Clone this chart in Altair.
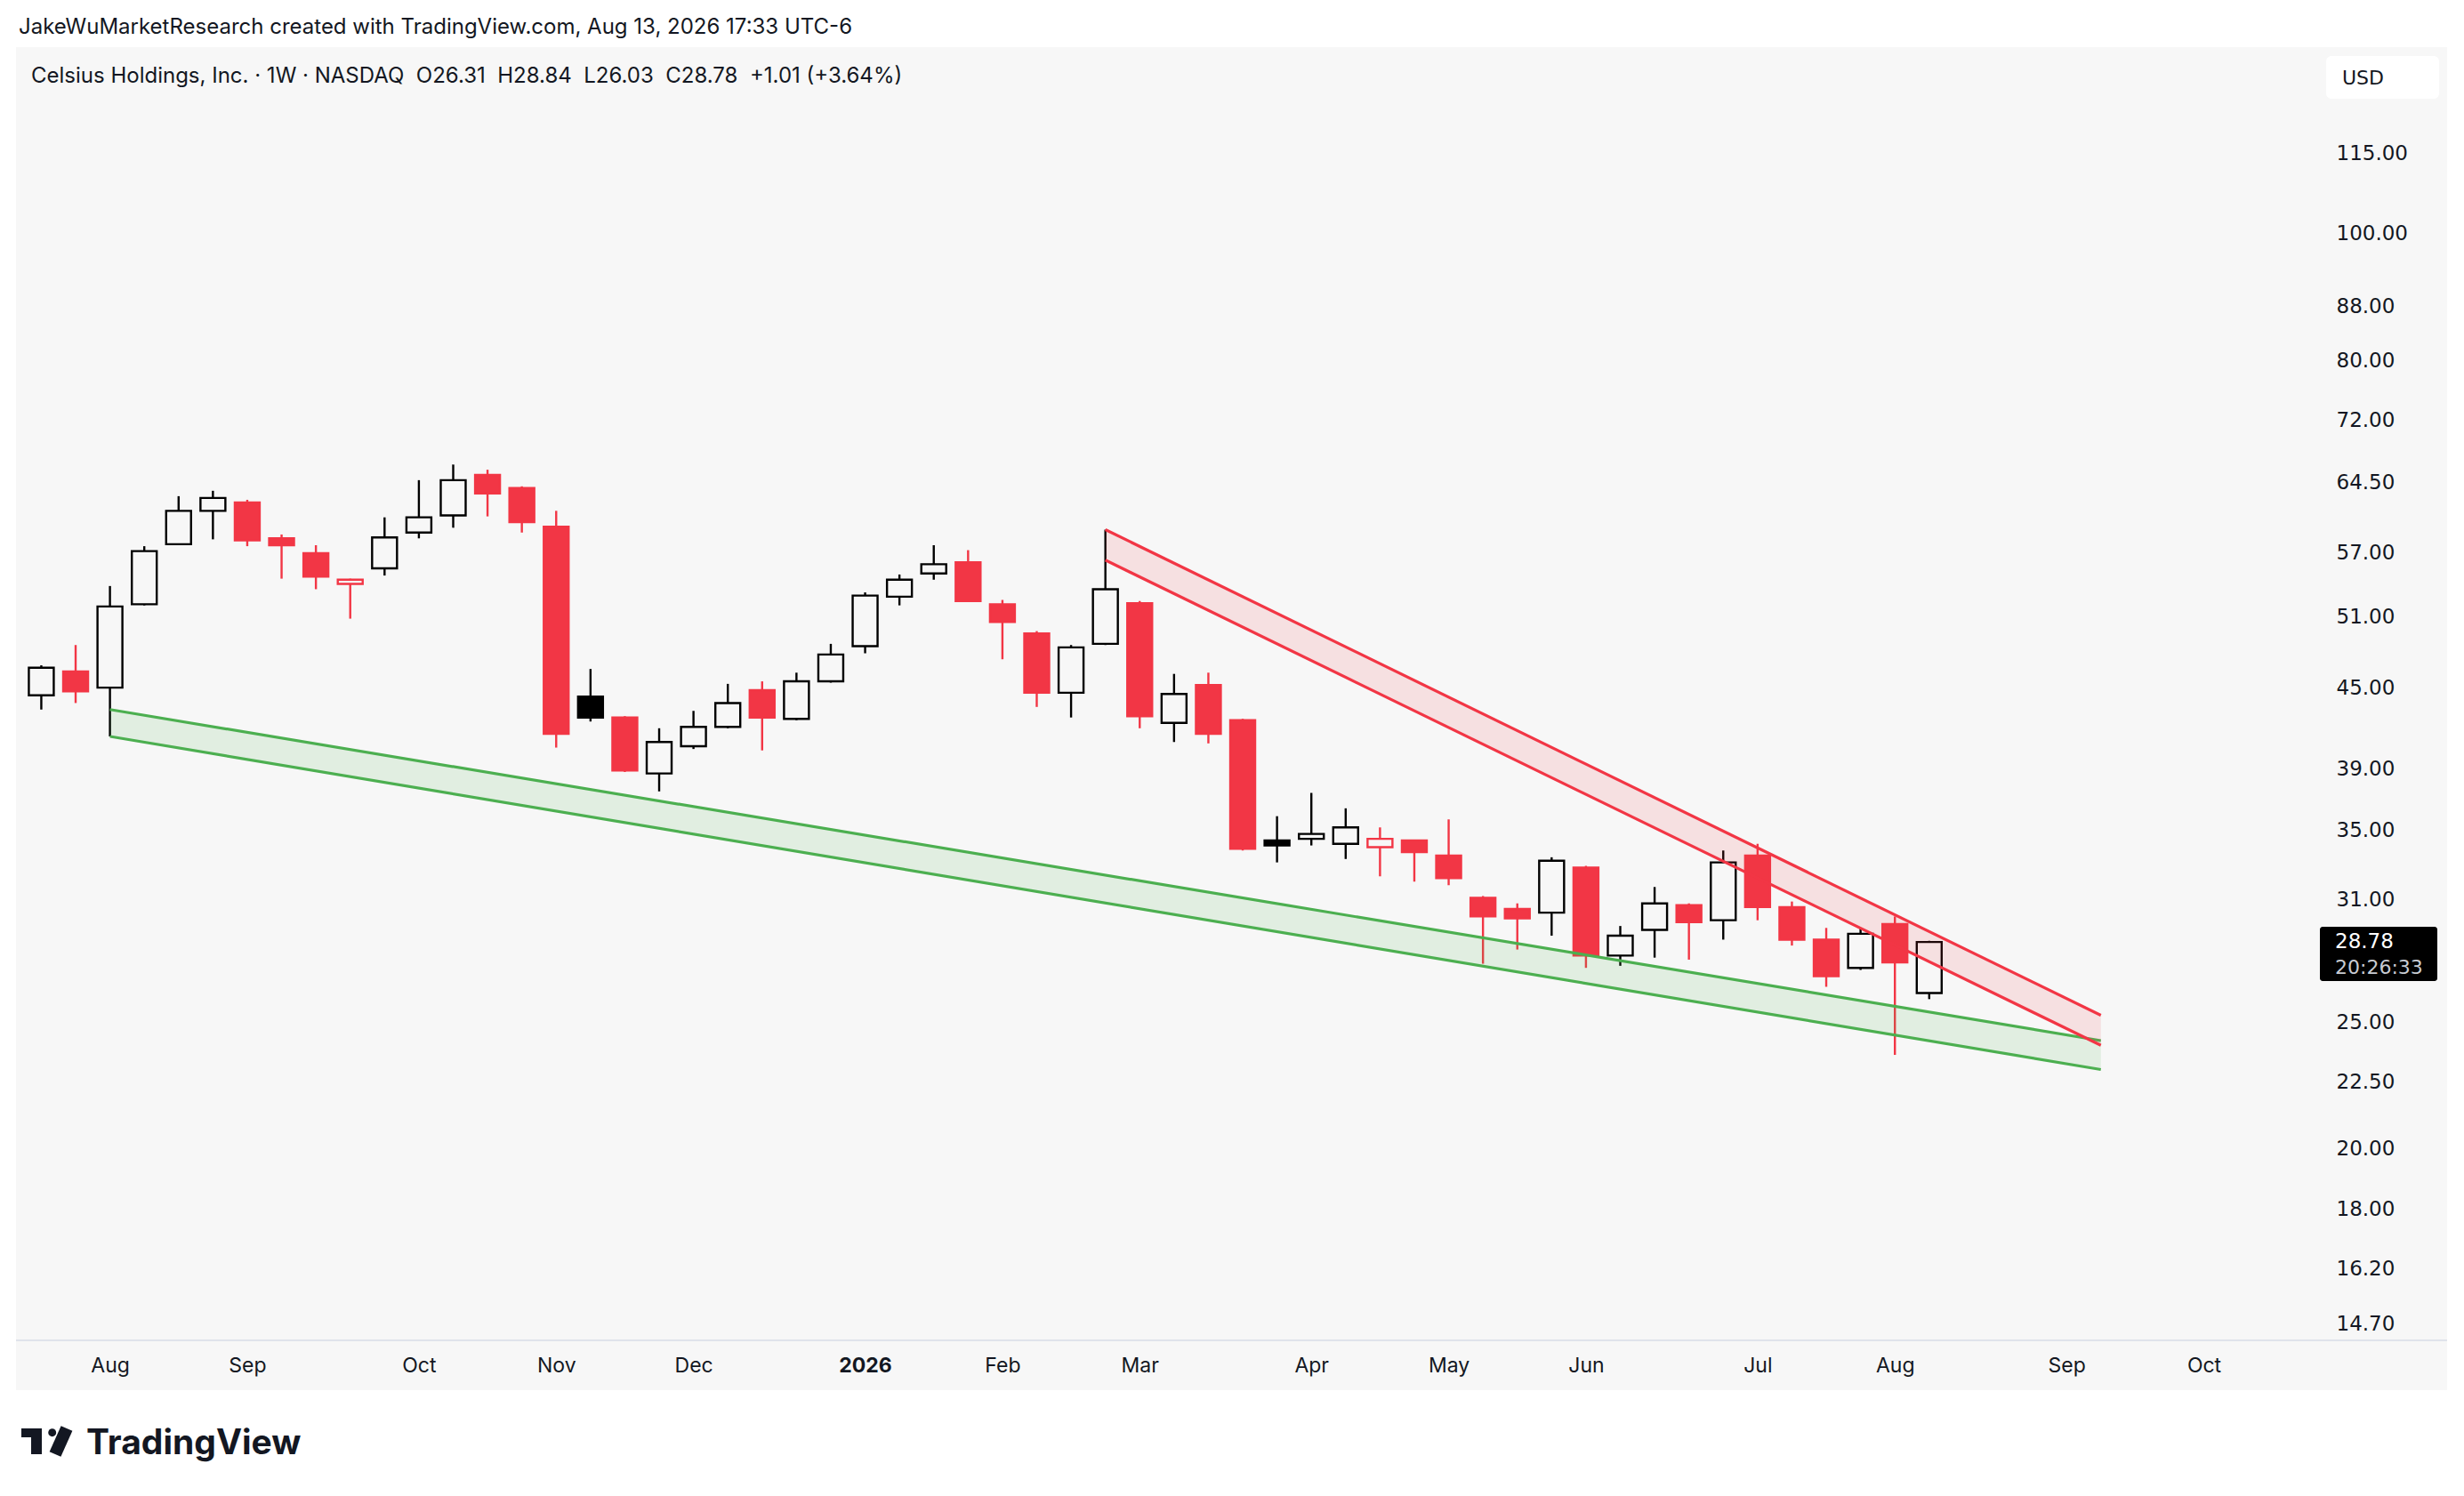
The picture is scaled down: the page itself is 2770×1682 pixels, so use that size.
import altair as alt
import pandas as pd
from datetime import datetime

# ---------------- data ----------------
week_dates = [
    "2025-07-21", "2025-07-28", "2025-08-04", "2025-08-11", "2025-08-18", "2025-08-25",
    "2025-09-01", "2025-09-08", "2025-09-15", "2025-09-22", "2025-09-29", "2025-10-06",
    "2025-10-13", "2025-10-20", "2025-10-27", "2025-11-03", "2025-11-10", "2025-11-17",
    "2025-11-24", "2025-12-01", "2025-12-08", "2025-12-15", "2025-12-22", "2025-12-29",
    "2026-01-05", "2026-01-12", "2026-01-19", "2026-01-26", "2026-02-02", "2026-02-09",
    "2026-02-16", "2026-02-23", "2026-03-02", "2026-03-09", "2026-03-16", "2026-03-23",
    "2026-03-30", "2026-04-06", "2026-04-13", "2026-04-20", "2026-04-27", "2026-05-04",
    "2026-05-11", "2026-05-18", "2026-05-25", "2026-06-01", "2026-06-08", "2026-06-15",
    "2026-06-22", "2026-06-29", "2026-07-06", "2026-07-13", "2026-07-20", "2026-07-27",
    "2026-08-03", "2026-08-10",
]
opens = [44.4, 46.3, 45.0, 52.1, 57.9, 61.4, 62.3, 58.5, 57.0, 54.0,
         55.5, 59.1, 60.9, 65.4, 63.9, 59.7, 44.3, 42.7, 38.7, 40.6,
         42.0, 44.8, 42.6, 45.5, 48.4, 52.8, 55.0, 56.1, 52.1, 49.5,
         44.6, 48.6, 52.2, 42.3, 45.2, 42.5, 34.4, 34.5, 34.2, 34.0,
         34.4, 33.5, 31.1, 30.5, 30.3, 32.8, 28.1, 29.4, 30.7, 29.9,
         33.5, 30.6, 28.9, 27.5, 29.7, 26.31]
highs = [46.8, 48.5, 53.8, 57.7, 63.0, 63.6, 62.6, 58.9, 57.8, 54.5,
         60.7, 64.8, 66.6, 66.0, 64.1, 61.4, 46.5, 42.8, 41.9, 43.2,
         45.3, 45.5, 46.2, 48.6, 53.2, 54.9, 57.8, 57.3, 52.5, 49.7,
         48.5, 59.4, 52.4, 46.1, 46.2, 42.6, 35.9, 37.4, 36.4, 35.2,
         34.4, 35.7, 31.2, 30.8, 33.4, 32.9, 29.6, 31.7, 30.8, 33.8,
         34.2, 30.9, 29.5, 29.5, 30.1, 28.84]
lows = [43.3, 43.8, 41.3, 52.0, 57.8, 58.4, 57.7, 54.5, 53.5, 50.8,
        54.8, 58.5, 59.6, 60.8, 59.1, 40.5, 42.4, 38.8, 37.5, 40.4,
        41.9, 40.3, 42.5, 45.4, 47.8, 52.0, 54.4, 52.3, 47.3, 43.5,
        42.7, 48.5, 41.9, 40.9, 40.8, 33.8, 33.1, 34.1, 33.3, 32.3,
        32.0, 31.8, 27.7, 28.4, 29.1, 27.5, 27.6, 28.0, 27.9, 28.9,
        29.9, 28.6, 26.6, 27.4, 23.6, 26.03]
closes = [46.6, 44.7, 51.9, 57.2, 61.4, 62.8, 58.3, 57.8, 54.7, 54.4,
          58.6, 60.7, 64.8, 63.3, 60.2, 41.5, 42.7, 38.9, 40.9, 42.0,
          43.8, 42.7, 45.5, 47.7, 52.9, 54.4, 55.9, 52.4, 50.5, 44.6,
          48.3, 53.5, 42.8, 44.5, 41.5, 33.9, 34.1, 34.8, 35.2, 34.5,
          33.7, 32.2, 30.1, 30.0, 33.2, 28.1, 29.1, 30.8, 29.8, 33.1,
          30.6, 28.9, 27.1, 29.2, 27.77, 28.78]

# trend-line channels (start / end anchors)
green_dates = ["2025-08-04", "2026-09-14"]
green_upper = [43.3, 24.2]
green_lower = [41.3, 23.0]
red_dates = ["2026-02-23", "2026-09-14"]
red_upper = [59.4, 25.3]
red_lower = [56.3, 24.0]

# axis ticks / labels
price_ticks = [115, 100, 88, 80, 72, 64.5, 57, 51, 45, 39, 35, 31, 25, 22.5, 20, 18, 16.2, 14.7]
month_ticks = ["2025-08-04", "2025-09-01", "2025-10-06", "2025-11-03", "2025-12-01",
               "2026-01-05", "2026-02-02", "2026-03-02", "2026-04-06", "2026-05-04",
               "2026-06-01", "2026-07-06", "2026-08-03", "2026-09-07", "2026-10-05"]

header_text = "JakeWuMarketResearch created with TradingView.com, Aug 13, 2026 17:33 UTC-6"
legend_text = ("Celsius Holdings, Inc. \u00b7 1W \u00b7 NASDAQ\u00a0\u00a0O26.31\u00a0\u00a0H28.84"
               "\u00a0\u00a0L26.03\u00a0\u00a0C28.78\u00a0\u00a0+1.01 (+3.64%)")
countdown_text = "20:26:33"

# ---------------- styling ----------------
RED = "#f23645"
GREEN = "#4caf50"
INK = "#131722"
PANEL = "#f7f7f7"
FONT = "Inter"
NUMFONT = "DejaVu Sans"

W, H = 2589, 1454

df = pd.DataFrame({"date": week_dates, "o": opens, "h": highs, "l": lows, "c": closes})
df["top"] = df[["o", "c"]].max(axis=1)
df["bot"] = df[["o", "c"]].min(axis=1)
prev = df["c"].shift(1)
is_black = prev.isna() | (df["c"] >= prev)
is_hollow = df["c"] > df["o"]
df["kind"] = [("b" if b else "r") + ("h" if hl else "f") for b, hl in zip(is_black, is_hollow)]

green_df = pd.DataFrame({"date": green_dates, "upper": green_upper, "lower": green_lower})
red_df = pd.DataFrame({"date": red_dates, "upper": red_upper, "lower": red_lower})
last_df = df.tail(1)[["date", "c"]]


def dt(s, h=0):
    d = datetime.strptime(s, "%Y-%m-%d")
    return alt.DateTime(year=d.year, month=d.month, date=d.day, hours=h, utc=True)


xscale = alt.Scale(type="utc", domain=[dt("2025-07-16", 18), dt("2026-10-27", 14)])
xaxis = alt.Axis(
    values=[dt(s) for s in month_ticks],
    labelExpr="utcmonth(datum.value) == 0 ? utcFormat(datum.value, '%Y') : utcFormat(datum.value, '%b')",
    labelFontWeight={"condition": {"test": "utcmonth(datum.value) == 0", "value": "bold"}, "value": "normal"},
    ticks=False, tickSize=0, domain=False, grid=False, title=None,
    labelFont=FONT, labelFontSize=23, labelColor=INK, labelPadding=28,
    labelBaseline="middle", labelAlign="center", labelFlush=False, labelOverlap=False,
    zindex=1,
)
yscale = alt.Scale(type="log", domain=[14.29, 138.7], nice=False, zero=False)
yaxis = alt.Axis(
    orient="right", values=price_ticks, format=".2f", labelAlign="left",
    labelPadding=19, ticks=False, tickSize=0, domain=False, grid=False, title=None,
    labelFont=NUMFONT, labelFontSize=23, labelColor=INK, labelBaseline="middle",
    labelOverlap=False, labelFlush=False, zindex=1,
)


def X(field="date"):
    return alt.X(f"{field}:T", scale=xscale, axis=xaxis)


def Y(field):
    return alt.Y(f"{field}:Q", scale=yscale, axis=yaxis)


kinds = ["bh", "bf", "rh", "rf"]
stroke_enc = alt.Stroke("kind:N", scale=alt.Scale(domain=kinds, range=["#000000", "#000000", RED, RED]), legend=None)
fill_enc = alt.Fill("kind:N", scale=alt.Scale(domain=kinds, range=["transparent", "#000000", "transparent", RED]), legend=None)

one = alt.Data(values=[{}])


def box(x1, x2, y1, y2, color, radius=0):
    return alt.Chart(one).mark_rect(color=color, cornerRadius=radius).encode(
        x=alt.value(x1), x2=alt.value(x2), y=alt.value(y1), y2=alt.value(y2))


def label(text, x, y, size=22, weight="normal", color=INK, baseline="middle", font=FONT):
    return alt.Chart(one).mark_text(
        text=text, align="left", baseline=baseline, font=font, fontSize=size,
        fontWeight=weight, color=color,
    ).encode(x=alt.value(x), y=alt.value(y))


background = box(0, 2733, 0, 1510, PANEL)
separator = alt.Chart(one).mark_rule(color="#e0e3eb", strokeWidth=2).encode(
    x=alt.value(0), x2=alt.value(2733), y=alt.value(H))

base = alt.Chart(df)
wick_up = base.mark_rule(strokeWidth=2.4).encode(x=X(), y=Y("top"), y2=alt.Y2("h:Q"), stroke=stroke_enc)
wick_dn = base.mark_rule(strokeWidth=2.4).encode(x=X(), y=Y("l"), y2=alt.Y2("bot:Q"), stroke=stroke_enc)
bodies = base.mark_bar(size=28, strokeWidth=2.4).encode(
    x=X(), y=Y("o"), y2=alt.Y2("c:Q"), fill=fill_enc, stroke=stroke_enc)

g_area = alt.Chart(green_df).mark_area(color=GREEN, opacity=0.13).encode(x=X(), y=Y("upper"), y2=alt.Y2("lower:Q"))
g_up = alt.Chart(green_df).mark_line(color=GREEN, strokeWidth=3.2).encode(x=X(), y=Y("upper"))
g_lo = alt.Chart(green_df).mark_line(color=GREEN, strokeWidth=3.2).encode(x=X(), y=Y("lower"))
r_area = alt.Chart(red_df).mark_area(color=RED, opacity=0.12).encode(x=X(), y=Y("upper"), y2=alt.Y2("lower:Q"))
r_up = alt.Chart(red_df).mark_line(color=RED, strokeWidth=3.2).encode(x=X(), y=Y("upper"))
r_lo = alt.Chart(red_df).mark_line(color=RED, strokeWidth=3.2).encode(x=X(), y=Y("lower"))

last = alt.Chart(last_df)
price_box = last.mark_rect(color="#000000", cornerRadius=3, yOffset=-17, y2Offset=44).encode(
    x=alt.value(2590), x2=alt.value(2722), y=Y("c"), y2=alt.Y2("c:Q"))
price_txt = last.mark_text(align="left", baseline="middle", font=NUMFONT, fontSize=23, color="#ffffff").encode(
    x=alt.value(2607), y=Y("c"), text=alt.Text("c:Q", format=".2f"))
count_txt = last.mark_text(align="left", baseline="middle", font=NUMFONT, fontSize=22, color="#c8cbd2",
                           dy=29, text=countdown_text).encode(x=alt.value(2607), y=Y("c"))

header = label(header_text, 3, -22, size=24, color="#131722")
legend = label(legend_text, 17, 33, size=24)
usd_box = box(2597, 2724, 10, 58, "#ffffff", radius=6)
usd_txt = label("USD", 2615, 35, size=22, font=NUMFONT)

# TradingView wordmark
logo_bar = box(6, 29, 1553, 1563, "#131722")
logo_stem = box(17, 29, 1563, 1582, "#131722")
logo_dot = alt.Chart(one).mark_circle(color="#131722", size=80, opacity=1).encode(
    x=alt.value(40.7), y=alt.value(1557.7))
logo_slash = alt.Chart(one).mark_rule(color="#131722", strokeWidth=14, strokeCap="butt").encode(
    x=alt.value(57), y=alt.value(1553), x2=alt.value(44), y2=alt.value(1582))
logo_txt = label("TradingView", 79, 1582, size=39, weight="bold", baseline="alphabetic")

chart = alt.layer(
    background, separator,
    wick_up, wick_dn, bodies,
    g_area, g_up, g_lo, r_area, r_up, r_lo,
    price_box, price_txt, count_txt,
    header, legend, usd_box, usd_txt,
    logo_bar, logo_stem, logo_dot, logo_slash, logo_txt,
).properties(
    width=W, height=H,
    padding={"left": 10, "top": 45, "right": 150, "bottom": 170},
    autosize=alt.AutoSizeParams(type="none"),
    background="#ffffff",
).configure_view(stroke=None)

chart.save("out.html", embed_options={"renderer": "svg", "actions": False})
